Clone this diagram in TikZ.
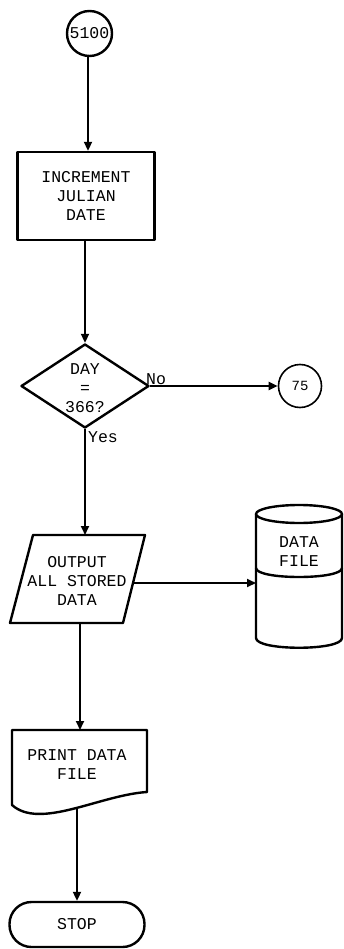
\documentclass[tikz,border=0pt]{standalone}
\usepackage{fontspec}
\setmonofont{Liberation Mono}
\usetikzlibrary{arrows.meta,shapes.geometric}
\begin{document}
\begin{tikzpicture}[x=1pt,y=-1pt,
  box/.style={draw, line width=2.4pt, line join=round},
  lbl/.style={font=\ttfamily\fontsize{16.5}{19}\selectfont, align=center, inner sep=0pt},
  flow/.style={line width=2pt, -{Triangle[length=9pt,width=8pt]}}]
\useasboundingbox (0,0) rectangle (344,949);

% entry connector and first process box
\node[box, circle, minimum size=45pt, lbl] (s5100) at (89.5,33.5) {5100};
\coordinate (entry) at (88,56);
\node[box, minimum width=137pt, minimum height=88pt, lbl] (incr) at (86,196)
  {INCREMENT\\JULIAN\\DATE};

% decision
\node[box, diamond, minimum width=128pt, minimum height=84pt, inner sep=0pt] (dec) at (85,386) {};
\node[lbl] (dectxt) at (85,388) {DAY\\=\\366?};
\node[box, circle, line width=1.6pt, minimum size=43pt, inner sep=0pt,
      font=\ttfamily\fontsize{14}{16}\selectfont] (c75) at (300,386) {75};
\node[lbl] (no) at (156,379) {No};
\node[lbl] (yes) at (103,437) {Yes};

% output parallelogram
\draw[box] (33,535) -- (145,535) -- (123,623) -- (10,623) -- cycle;
\node[lbl] (out) at (77,581) {OUTPUT\\ALL STORED\\DATA};
\coordinate (outtop) at (84,535);
\coordinate (outright) at (133,583);
\coordinate (outbot) at (80,623);

% data file storage
\draw[box] (256,514) -- (256,638) .. controls (256,651) and (342,651) .. (342,638) -- (342,514);
\draw[box] (299,514) ellipse [x radius=43, y radius=9];
\draw[box] (256,568) .. controls (256,580) and (342,580) .. (342,568);
\node[lbl] (dfile) at (299,552) {DATA\\FILE};
\coordinate (dfleft) at (256,583);

% printed document
\draw[box] (12,730) -- (147,730) -- (147,792) .. controls (100,795) and (40,830) .. (12,805) -- cycle;
\node[lbl] (prt) at (77,765) {PRINT DATA\\FILE};
\coordinate (prttop) at (80,730);
\coordinate (prtbot) at (77,808);

% terminator
\node[box, rounded corners=22pt, minimum width=135pt, minimum height=45pt, lbl] (stop) at (77,924.5) {STOP};

% connectors
\draw[flow] (entry) -- (entry |- incr.north);
\draw[flow] (incr.south -| dec.north) -- (dec.north);
\draw[flow] (dec.east) -- (c75.west);
\draw[flow] (dec.south) -- (dec.south |- outtop);
\draw[flow] (outright) -- (dfleft);
\draw[flow] (outbot) -- (prttop);
\draw[flow] (prtbot) -- (stop.north);
\end{tikzpicture}
\end{document}
